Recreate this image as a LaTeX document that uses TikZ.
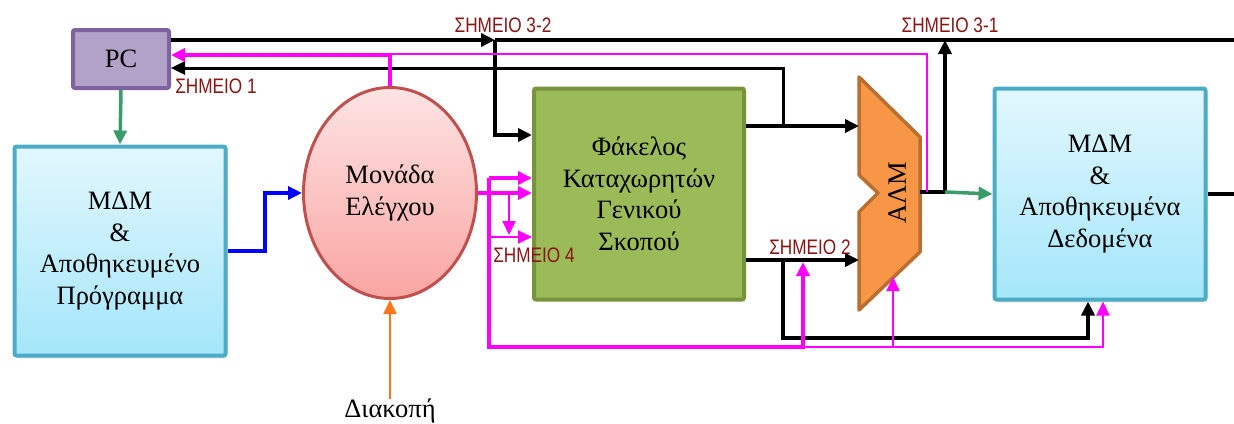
\documentclass[tikz,border=0pt]{standalone}
\usepackage{fontspec}
\setmainfont{Liberation Serif}
\newfontfamily\lblfont[FakeStretch=0.82]{Liberation Sans}
\usetikzlibrary{arrows.meta, shapes.geometric, shadows}

\definecolor{pcfill}{HTML}{B3A2C7}
\definecolor{pcdraw}{HTML}{7E62A1}
\definecolor{mdmtop}{HTML}{E2F7FD}
\definecolor{mdmbot}{HTML}{A4E6FA}
\definecolor{mdmdraw}{HTML}{4BACC6}
\definecolor{cutop}{HTML}{FDE4E4}
\definecolor{cubot}{HTML}{F9A5A2}
\definecolor{cudraw}{HTML}{C0504D}
\definecolor{rffill}{HTML}{9BBB59}
\definecolor{rfdraw}{HTML}{77933C}
\definecolor{alufill}{HTML}{F79646}
\definecolor{aludraw}{HTML}{B86F30}
\definecolor{lblred}{HTML}{8B1414}
\definecolor{grnarr}{HTML}{3A9B6B}
\definecolor{orngarr}{HTML}{FF7519}
\definecolor{mgnt}{HTML}{FF00FF}

\begin{document}
\begin{tikzpicture}[
    x=1pt, y=-1pt,
    font=\fontsize{26.5}{31.5}\selectfont,
    box/.style={rectangle, line width=4pt, rounded corners=2pt, align=center, inner sep=0pt},
    mdm/.style={box, draw=mdmdraw, top color=mdmtop, bottom color=mdmbot,
                minimum width=211pt, minimum height=211pt,
                drop shadow={opacity=0.2, shadow xshift=2pt, shadow yshift=-3pt}},
    lbl/.style={font=\lblfont\fontsize{21}{24}\selectfont, text=lblred, inner sep=0pt},
    arr/.style={-{Triangle[length=14pt, width=13pt]}},
    blk/.style={line width=4pt, draw=black},
    mag/.style={line width=4pt, draw=mgnt},
    magthin/.style={line width=2pt, draw=mgnt}
]
\useasboundingbox (0,0) rectangle (1234,423);

% blocks
\node[box, draw=pcdraw, fill=pcfill, minimum width=96pt, minimum height=58pt] (pc) at (121,59) {PC};
\node[mdm, minimum height=209pt] (mdmL) at (120,251) {ΜΔΜ\\\&\\Αποθηκευμένο\\Πρόγραμμα};
\node[ellipse, line width=3pt, draw=cudraw, top color=cutop, bottom color=cubot,
      minimum width=173pt, minimum height=211pt, align=center, inner sep=0pt] (cu) at (390,193) {Μονάδα\\Ελέγχου};
\node[box, draw=rfdraw, fill=rffill, minimum width=210pt, minimum height=211pt] (rf) at (639,194)
      {Φάκελος\\Καταχωρητών\\Γενικού\\Σκοπού};
\node[mdm] (mdmR) at (1100,194) {ΜΔΜ\\\&\\Αποθηκευμένα\\Δεδομένα};
\node[inner sep=0pt] (int) at (390,411) {Διακοπή};

% ALU
\draw[line width=3.5pt, draw=aludraw, fill=alufill, line join=round]
    (859,77) -- (920,137) -- (920,252) -- (859,310) -- (859,212) -- (878,193) -- (859,175) -- cycle;
\node[rotate=90, inner sep=0pt] (alu) at (897,193) {ΑΛΜ};

\coordinate (j32) at (495,40);
\coordinate (j31) at (945,40);
\coordinate (busend) at (1234,40);
\coordinate (aluin1) at (859,126);
\coordinate (aluin2) at (859,260);
\coordinate (aluout) at (920,192);
\coordinate (aluback) at (927,192);
\coordinate (aluflag) at (893,277);
\coordinate (j1) at (783,126);
\coordinate (j2) at (783,260);
\coordinate (j31b) at (945,192);
\coordinate (dout) at (mdmR.east -| busend);
\coordinate (dmin1) at ([xshift=-12pt]mdmR.south);
\coordinate (dmin2) at ([xshift=3pt]mdmR.south);
\coordinate (m1) at (391,55);
\coordinate (m4) at (489,178);
\coordinate (m5) at (489,237);
\coordinate (m6) at (509,192);
\coordinate (m2) at (803,347);
\coordinate (s2pt) at (803,262);

% black paths
\draw[blk, arr] (pc.east |- j32) -- (j32);
\draw[blk] (j32) -- (busend);
\draw[blk, arr] (j32) |- (rf.west |- 0,135);
\draw[blk, arr] (rf.east |- aluin1) -- (aluin1);
\draw[blk, line width=3pt, arr] (j1) |- (pc.east |- 0,68);
\draw[blk, arr] (rf.east |- aluin2) -- (aluin2);
\draw[blk, arr] (j2) -- ++(0,78) -| (dmin1);
\draw[blk] (aluout) -- (j31b);
\draw[blk, arr] (j31b) -- (j31);
\draw[blk] (mdmR.east) -- (dout);

% magenta paths
\draw[mag, arr] (cu.north) |- (pc.east |- m1);
\draw[magthin] (aluback) |- (cu.north |- 0,54);
\draw[mag, arr] (cu.east) -- (rf.west |- cu.east);
\draw[mag, arr] (m4) -- (rf.west |- m4);
\draw[mag, arr] (m4) |- (m2) -- (s2pt);
\draw[magthin, arr] (m5) -- (rf.west |- m5);
\draw[magthin, arr] (m6) -- ++(0,43);
\draw[magthin, arr] (m2) -| (dmin2);
\draw[magthin, arr] (aluflag |- m2) -- (aluflag);

% other arrows
\draw[line width=3.5pt, draw=grnarr, arr] (pc.south) -- (mdmL.north);
\draw[line width=3.5pt, draw=grnarr, arr] (j31b) -- (mdmR.west);
\draw[line width=4pt, draw=blue, arr] (mdmL.east) -- ++(37,0) |- (cu.west);
\draw[line width=2pt, draw=orngarr, arr] (int.north) -- (cu.south);

% labels
\node[lbl] (s1) at (216,86) {ΣΗΜΕΙΟ 1};
\node[lbl] (s32) at (503,25) {ΣΗΜΕΙΟ 3-2};
\node[lbl] (s31) at (950,25) {ΣΗΜΕΙΟ 3-1};
\node[lbl] (s2) at (810,247) {ΣΗΜΕΙΟ 2};
\node[lbl] (s4) at (534,255) {ΣΗΜΕΙΟ 4};
\end{tikzpicture}
\end{document}
